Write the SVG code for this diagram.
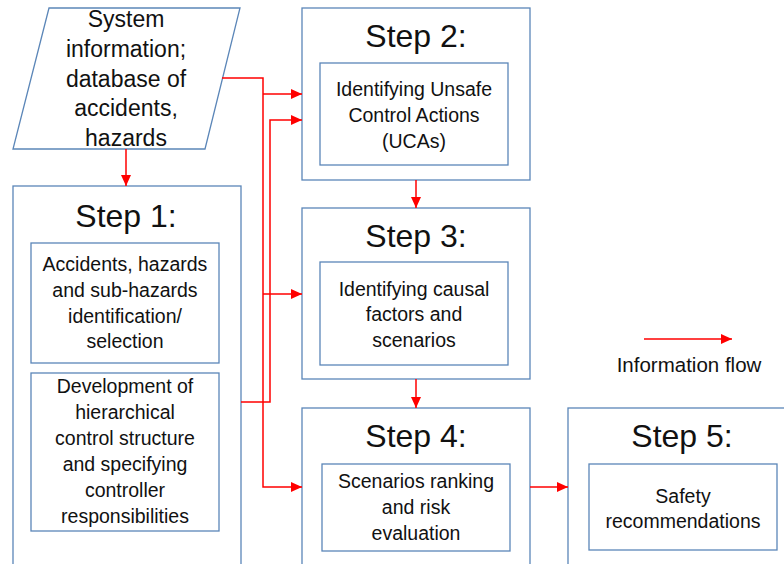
<svg xmlns="http://www.w3.org/2000/svg" width="784" height="564" viewBox="0 0 784 564">
<style>
.box{fill:#fff;stroke:#5b86b8;stroke-width:1.3}
.t{font-family:"Liberation Sans",Arial,sans-serif;fill:#111;text-anchor:middle}
.title{font-size:32px}
.body{font-size:19.5px}
.big{font-size:23px}
.leg{font-size:20.5px}
.flow{fill:none;stroke:#ff0000;stroke-width:1.5}
</style>
<defs>
<marker id="ah" markerUnits="userSpaceOnUse" markerWidth="12" markerHeight="10" refX="11" refY="5" orient="auto">
<path d="M0,0 L11,5 L0,10 Z" fill="#ff0000"/>
</marker>
</defs>
<rect width="784" height="564" fill="#fff"/>
<g id="input">
<polygon class="box" points="49,8 240,8 205,149 13,149"/>
<text class="t big" x="126" y="27">System</text>
<text class="t big" x="126" y="57">information;</text>
<text class="t big" x="126" y="87">database of</text>
<text class="t big" x="126" y="116">accidents,</text>
<text class="t big" x="126" y="146">hazards</text>
</g>
<g id="step1">
<rect class="box" x="13" y="186" width="228" height="390"/>
<text class="t title" x="126" y="227">Step 1:</text>
<rect class="box" x="31" y="243" width="188" height="120"/>
<text class="t body" x="125" y="271">Accidents, hazards</text>
<text class="t body" x="125" y="297">and sub-hazards</text>
<text class="t body" x="125" y="323">identification/</text>
<text class="t body" x="125" y="348">selection</text>
<rect class="box" x="31" y="373" width="188" height="158"/>
<text class="t body" x="125" y="393">Development of</text>
<text class="t body" x="125" y="419">hierarchical</text>
<text class="t body" x="125" y="445">control structure</text>
<text class="t body" x="125" y="471">and specifying</text>
<text class="t body" x="125" y="497">controller</text>
<text class="t body" x="125" y="523">responsibilities</text>
</g>
<g id="step2">
<rect class="box" x="302" y="8" width="228" height="172"/>
<text class="t title" x="416" y="47">Step 2:</text>
<rect class="box" x="320" y="63" width="188" height="102"/>
<text class="t body" x="414" y="96">Identifying Unsafe</text>
<text class="t body" x="414" y="122">Control Actions</text>
<text class="t body" x="414" y="148">(UCAs)</text>
</g>
<g id="step3">
<rect class="box" x="302" y="208" width="228" height="171"/>
<text class="t title" x="416" y="247">Step 3:</text>
<rect class="box" x="320" y="262" width="188" height="103"/>
<text class="t body" x="414" y="296">Identifying causal</text>
<text class="t body" x="414" y="321">factors and</text>
<text class="t body" x="414" y="347">scenarios</text>
</g>
<g id="step4">
<rect class="box" x="302" y="408" width="228" height="170"/>
<text class="t title" x="416" y="447">Step 4:</text>
<rect class="box" x="322" y="464" width="188" height="87"/>
<text class="t body" x="416" y="488">Scenarios ranking</text>
<text class="t body" x="416" y="514">and risk</text>
<text class="t body" x="416" y="540">evaluation</text>
</g>
<g id="step5">
<rect class="box" x="568" y="408" width="230" height="170"/>
<text class="t title" x="682" y="447">Step 5:</text>
<rect class="box" x="589" y="464" width="188" height="86"/>
<text class="t body" x="683" y="503">Safety</text>
<text class="t body" x="683" y="528">recommendations</text>
</g>
<g id="legend">
<line class="flow" x1="644" y1="339" x2="732" y2="339" marker-end="url(#ah)"/>
<text class="t leg" x="689" y="372">Information flow</text>
</g>
<g id="connectors">
<line class="flow" x1="126" y1="149" x2="126" y2="186" marker-end="url(#ah)"/>
<path class="flow" d="M222,78 H263 V487 H302" marker-end="url(#ah)"/>
<line class="flow" x1="263" y1="94" x2="302" y2="94" marker-end="url(#ah)"/>
<line class="flow" x1="263" y1="294" x2="302" y2="294" marker-end="url(#ah)"/>
<path class="flow" d="M241,402 H270 V120 H302" marker-end="url(#ah)"/>
<line class="flow" x1="416" y1="180" x2="416" y2="208" marker-end="url(#ah)"/>
<line class="flow" x1="416" y1="379" x2="416" y2="408" marker-end="url(#ah)"/>
<line class="flow" x1="530" y1="487" x2="568" y2="487" marker-end="url(#ah)"/>
</g>
</svg>
